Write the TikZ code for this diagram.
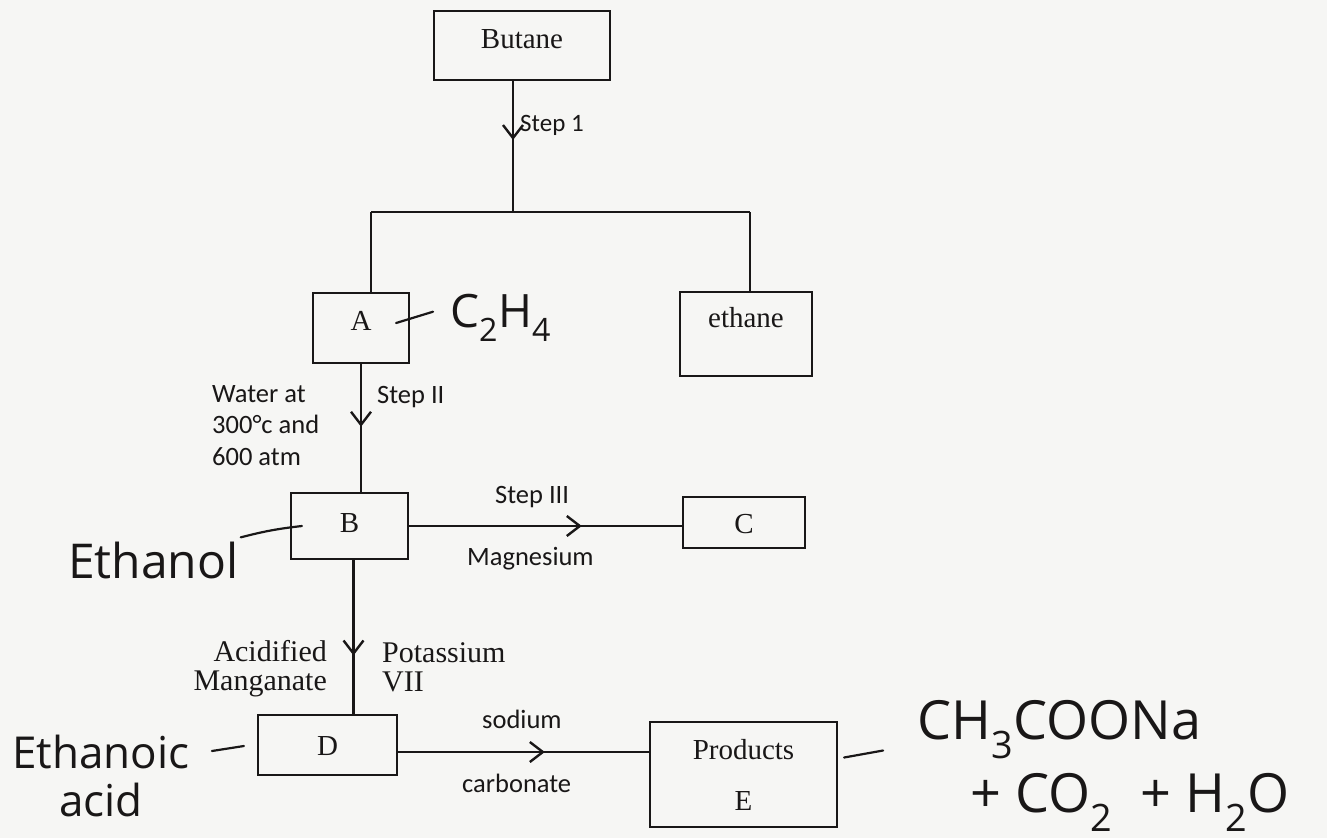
\documentclass[tikz,border=0pt]{standalone}
\usepackage{fontspec}
\setmainfont{Liberation Serif}
\newfontfamily\labfont{Carlito}
\newfontfamily\handfont{Open Sans}
\usetikzlibrary{arrows.meta,decorations.markings}
\definecolor{paper}{RGB}{246,246,244}
\definecolor{ink}{RGB}{25,23,23}
\tikzset{
  box/.style={draw=ink, text=ink, line width=2.2pt, inner sep=0pt, font=\fontsize{29}{34}\selectfont, anchor=base},
  conn/.style={draw=ink, line width=2.4pt},
  midarrow/.style={postaction={decorate}, decoration={markings, mark=at position #1 with {\arrow{Straight Barb[length=13pt,width=20pt]}}}},
  lab/.style={text=ink, font=\labfont\fontsize{26.5}{31.5}\selectfont, inner sep=0pt, anchor=base west},
  serlab/.style={text=ink, font=\fontsize{30}{29}\selectfont, inner sep=0pt},
  hand/.style={text=ink, font=\handfont\fontsize{48}{60}\selectfont, inner sep=0pt, anchor=base west},
  handline/.style={draw=ink, line width=2.2pt, line cap=round},
}
\begin{document}
\begin{tikzpicture}[x=1pt,y=-1pt]
\fill[paper] (0,0) rectangle (1327,838);
\useasboundingbox (0,0) rectangle (1327,838);

% boxes
\node[box, minimum width=176pt, text height=37pt, text depth=32pt] (butane) at (522,48) {Butane};
\node[box, minimum width=96pt, text height=37pt, text depth=33pt] (A) at (361,330) {A};
\node[box, minimum width=132pt, text height=35pt, text depth=49pt] (ethane) at (746,327) {ethane};
\node[box, minimum width=117pt, text height=39pt, text depth=27pt] (B) at (349.5,532) {B};
\node[box, minimum width=122pt, text height=36pt, text depth=15pt] (C) at (744,533) {C};
\node[box, minimum width=139pt, text height=40pt, text depth=20pt] (D) at (327.5,755) {D};
\node[box, anchor=center, align=center, minimum width=187pt, minimum height=105pt, font=\fontsize{29}{51}\selectfont] (E) at (743.5,774.5) {Products\\E};

% junctions
\coordinate (j1) at (513,212);
\coordinate (jL) at (371,212);
\coordinate (jR) at (750,212);

% connectors
\draw[conn, midarrow=0.45] (butane.south -| j1) -- (j1);
\draw[conn] (jL) -- (jR);
\draw[conn] (jL) -- (jL |- A.north);
\draw[conn] (jR) -- (jR |- ethane.north);
\draw[conn, midarrow=0.49] (A.south) -- (A.south |- B.north);
\draw[conn, midarrow=0.633] (B.east) -- (B.east -| C.west);
\draw[conn, midarrow=0.62] ([xshift=4pt]B.south) -- ([xshift=4pt]B.south |- D.north);
\draw[conn, midarrow=0.585] ([yshift=-7pt]D.east) -- ([yshift=-7pt]D.east -| E.west);

% printed labels
\node[lab, font=\labfont\fontsize{25}{30}\selectfont] (s1) at (520,131) {Step 1};
\node[lab] (s2) at (377,403) {Step II};
\node[lab, anchor=north west, align=left] (water) at (212,385) {Water at\\300°c and\\600 atm};
\node[lab] (s3) at (495,503) {Step III};
\node[lab] (mg) at (467,565) {Magnesium};
\node[serlab, anchor=north east, align=right] (acid) at (327,640) {Acidified\\Manganate};
\node[serlab, anchor=north west, align=left] (pot) at (382,642) {Potassium\\VII};
\node[lab] (na) at (482,728) {sodium};
\node[lab] (co3) at (462,792) {carbonate};

% handwritten notes
\node[hand, font=\handfont\fontsize{46}{56}\selectfont] (c2h4) at (450,327) {C\textsubscript{2}H\textsubscript{4}};
\draw[handline] ([shift={(-14,-5)}]A.east) -- ([shift={(-17,-6)}]c2h4.west);

\node[hand] (ethanol) at (68,578) {Ethanol};
\draw[handline] ([shift={(2,-4)}]ethanol.north east) to[bend left=4] ([xshift=12pt]B.west);

\node[hand, anchor=north west, align=center, font=\handfont\fontsize{44}{48}\selectfont] (ethanoic) at (12,735) {Ethanoic\\acid};
\draw[handline] ([shift={(-45,6)}]D.west) -- ([shift={(-13,1)}]D.west);

\node[hand, anchor=north west, align=left, font=\handfont\fontsize{54}{73}\selectfont] (prod) at (917,700) {CH\textsubscript{3}COONa\\\hspace*{53pt}+ CO\textsubscript{2}\hspace{28pt}+ H\textsubscript{2}O};
\draw[handline] ([shift={(6,-17)}]E.east) -- ([shift={(45,-24)}]E.east);
\end{tikzpicture}
\end{document}
